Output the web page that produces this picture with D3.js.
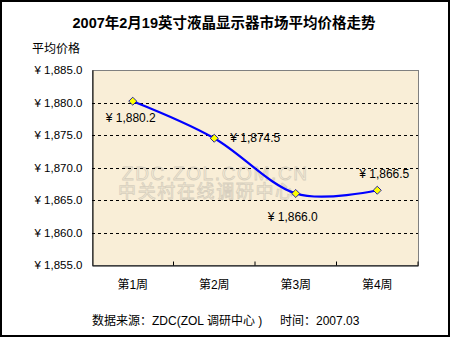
<!DOCTYPE html>
<html><head><meta charset="utf-8">
<script src="https://cdn.jsdelivr.net/npm/d3@7"></script>
<style>
html,body{margin:0;padding:0;background:#fff;}
svg{display:block;}
</style></head>
<body>
<svg id="c" width="450" height="337"></svg>
<script>
const categories = ["第1周","第2周","第3周","第4周"];
const prices = [1880.2, 1874.5, 1866.0, 1866.5];
const yTicks = [1855, 1860, 1865, 1870, 1875, 1880, 1885];
const titleText = "2007年2月19英寸液晶显示器市场平均价格走势";
const yAxisTitle = "平均价格";
const sourceText = "数据来源：ZDC(ZOL 调研中心 )";
const timeText = "时间：2007.03";

const svg = d3.select("#c");
const font = "'Liberation Sans','Noto Sans CJK SC',Arial,sans-serif";
const W = 450, H = 337;
const L = 92, R = 418, T = 70, B = 265;

svg.append("rect").attr("x",1).attr("y",1).attr("width",W-2).attr("height",H-2)
  .attr("fill","#fff").attr("stroke","#000").attr("stroke-width",2);

const x = d3.scaleBand().domain(categories).range([L,R]).padding(0);
const y = d3.scaleLinear().domain([1855,1885]).range([B,T]);

// plot background
svg.append("rect").attr("x",L+0.5).attr("y",T+0.5).attr("width",R-L).attr("height",B-T)
  .attr("fill","#F9EED7").attr("stroke","#808080").attr("stroke-width",1);

// watermark
const wm = svg.append("g").attr("font-family",font).attr("fill","none")
  .attr("stroke","#d6cebe").attr("stroke-width",0.8);
wm.append("text").attr("x",122).attr("y",180).attr("font-size",19)
  .attr("textLength",185).text("ZDC.ZOL.COM.CN");
wm.append("text").attr("x",118).attr("y",198).attr("font-size",18)
  .attr("textLength",175).text("中关村在线调研中心");

// gridlines
svg.append("g").selectAll("line").data(yTicks.filter(d=>d>1855 && d<1885)).join("line")
  .attr("x1",L).attr("x2",R).attr("y1",d=>Math.round(y(d))+0.5).attr("y2",d=>Math.round(y(d))+0.5)
  .attr("stroke","#000").attr("stroke-dasharray","3,3").attr("stroke-width",1);

// axes
const yAxis = d3.axisLeft(y).tickValues(yTicks).tickSize(0).tickPadding(10)
  .tickFormat(d=>"¥ " + d3.format(",.1f")(d));
const gy = svg.append("g").attr("transform",`translate(${L+0.5},0)`).call(yAxis);
gy.select(".domain").attr("stroke","#000");
gy.selectAll("text").attr("font-family",font).attr("font-size",11.5).attr("fill","#000");

const xAxis = d3.axisBottom(x).tickSize(-4).tickSizeOuter(0);
const gx = svg.append("g").attr("transform",`translate(0,${B+0.5})`).call(xAxis);
gx.select(".domain").attr("stroke","#000");
gx.selectAll(".tick line").attr("stroke","#000")
  .attr("transform",`translate(${x.bandwidth()/2},0)`);
gx.selectAll(".tick text").attr("font-family",font).attr("font-size",12).attr("fill","#000").attr("y",15);

// line
const line = d3.line().x((d,i)=>x(categories[i])+x.bandwidth()/2).y(d=>y(d))
  .curve(d3.curveCardinal.tension(0));
svg.append("path").datum(prices).attr("d",line).attr("fill","none")
  .attr("stroke","#0000FF").attr("stroke-width",2.2);

// markers
svg.append("g").selectAll("path").data(prices).join("path")
  .attr("d",d3.symbol(d3.symbolSquare,32)())
  .attr("transform",(d,i)=>`translate(${x(categories[i])+x.bandwidth()/2},${y(d)}) rotate(45)`)
  .attr("fill","#FFFF00").attr("stroke","#0000A0").attr("stroke-width",0.8);

// data labels
const labelPos = [
  {dx:-2, dy:21, anchor:"middle"},
  {dx:16, dy:4, anchor:"start"},
  {dx:-3, dy:27, anchor:"middle"},
  {dx:7, dy:-12, anchor:"middle"}
];
svg.append("g").selectAll("text").data(prices).join("text")
  .attr("x",(d,i)=>x(categories[i])+x.bandwidth()/2+labelPos[i].dx)
  .attr("y",(d,i)=>y(d)+labelPos[i].dy)
  .attr("text-anchor",(d,i)=>labelPos[i].anchor)
  .attr("font-family",font).attr("font-size",12).attr("fill","#000")
  .text(d=>"¥ " + d3.format(",.1f")(d));

// titles
svg.append("text").attr("x",224).attr("y",28).attr("text-anchor","middle")
  .attr("font-family",font).attr("font-weight","bold").attr("font-size",14.5).text(titleText);
svg.append("text").attr("x",32).attr("y",53)
  .attr("font-family",font).attr("font-size",12).text(yAxisTitle);
svg.append("text").attr("x",92).attr("y",325)
  .attr("font-family",font).attr("font-size",12).text(sourceText);
svg.append("text").attr("x",280).attr("y",325)
  .attr("font-family",font).attr("font-size",12).text(timeText);
</script>
</body></html>
